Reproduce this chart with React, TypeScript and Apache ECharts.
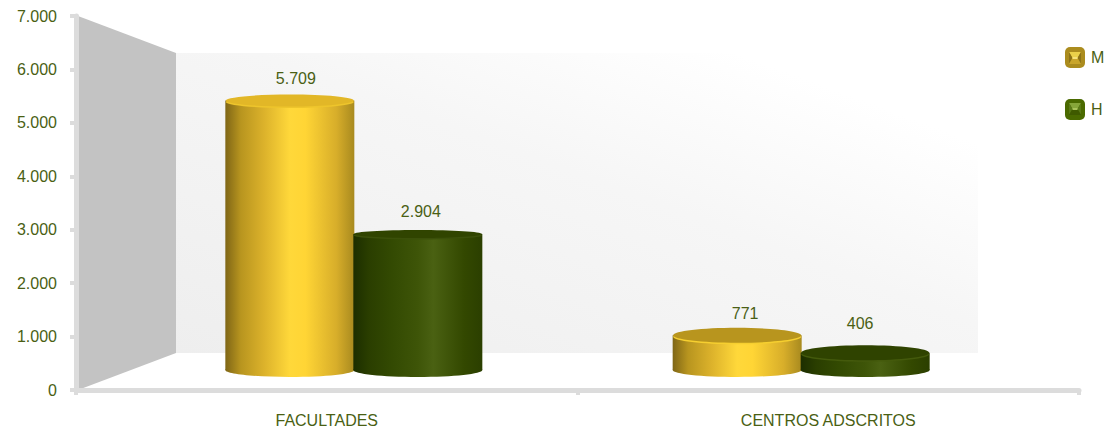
import React, { useEffect, useRef } from "react";
import * as echarts from "echarts";

const categories = ["FACULTADES", "CENTROS ADSCRITOS"];
const valuesM = [5709, 771];
const valuesH = [2904, 406];
const yTicks = { min: 0, max: 7000, interval: 1000 };

const TEXT = "#4a5f14";
const FONT = "'Liberation Sans', Arial, sans-serif";
const FS = 16;

const GOLD = {
  stops: ["#7f6616", "#b8951f", "#dcb22b", "#ffd83a", "#ffd535", "#d8ae2a", "#a88a1f"],
  face: "#b8951e",
  faceTall: "#e2b727",
  rim: "#f6cf30",
  rimTall: "#eec52c",
  labelDx: [6, 8],
};
const GREEN = {
  stops: ["#1c2e00", "#2a3e00", "#334a02", "#3e5508", "#4a6112", "#334800", "#2b3f00"],
  face: "#2f4300",
  faceTall: "#304400",
  rim: "#445a0c",
  rimTall: "#3b500a",
  labelDx: [3, -5],
};

const sideGrad = (p: typeof GOLD) =>
  new echarts.graphic.LinearGradient(0, 0, 1, 0, [
    { offset: 0, color: p.stops[0] },
    { offset: 0.12, color: p.stops[1] },
    { offset: 0.3, color: p.stops[2] },
    { offset: 0.5, color: p.stops[3] },
    { offset: 0.62, color: p.stops[4] },
    { offset: 0.86, color: p.stops[5] },
    { offset: 1, color: p.stops[6] },
  ]);

function cylinder(palette: typeof GOLD, side: number) {
  return (_params: any, api: any) => {
    const cat = api.value(0);
    const v = api.value(1);
    const front = api.coord([cat, 0]);
    const band = api.size([1, 0])[0];
    const center = api.coord([0, 0])[0] + band / 2;
    const barCx = front[0] + (center - front[0]) * 0.108;
    const cx = barCx + side * 64;
    const hPerUnit = (front[1] - api.coord([cat, 1000])[1]) / 1000;
    const rx = 64.5;
    const baseY = front[1] - 20;
    const topY = front[1] - 18 - v * hPerUnit * 0.89;
    const tall = v > 2000;
    const ry = v > 5000 ? 6 : tall ? 4 : 7.5;
    const grad = sideGrad(palette);
    const nudge = v < 500 ? 7 : 0;
    return {
      type: "group",
      children: [
        { type: "ellipse", shape: { cx, cy: baseY, rx, ry: 7 }, style: { fill: grad } },
        { type: "rect", shape: { x: cx - rx, y: topY, width: rx * 2, height: baseY - topY }, style: { fill: grad } },
        { type: "ellipse", shape: { cx, cy: topY + 1.5, rx: rx - 0.5, ry }, style: { fill: tall ? palette.rimTall : palette.rim } },
        { type: "ellipse", shape: { cx, cy: topY, rx: rx - 0.5, ry }, style: { fill: tall ? palette.faceTall : palette.face } },
        {
          type: "text",
          style: {
            text: v.toLocaleString("de-DE"),
            x: cx + palette.labelDx[cat],
            y: topY - 22 - nudge,
            fill: TEXT,
            font: `${FS}px ${FONT}`,
            align: "center",
            verticalAlign: "middle",
          },
        },
      ],
    };
  };
}

function legendIcon(x: number, y: number, light: string, mid: string, dark: string, pale: string) {
  const s = 12;
  const i = 3.5;
  return [
    { type: "polygon", shape: { points: [[x, y], [x + s, y], [x + s - i, y + s / 2], [x + i, y + s / 2]] }, style: { fill: light }, z: 6 },
    { type: "polygon", shape: { points: [[x, y], [x + i, y + s / 2], [x, y + s]] }, style: { fill: dark }, z: 6 },
    { type: "polygon", shape: { points: [[x + s, y], [x + s - i, y + s / 2], [x + s, y + s]] }, style: { fill: dark }, z: 6 },
    { type: "polygon", shape: { points: [[x + i, y + s / 2], [x + s - i, y + s / 2], [x + s, y + s], [x, y + s]] }, style: { fill: mid }, z: 6 },
    { type: "rect", shape: { x: x + i, y: y + s / 2 - 1, width: s - 2 * i, height: 2 }, style: { fill: pale }, z: 6 },
  ];
}

export default function App() {
  const ref = useRef<HTMLDivElement>(null);
  useEffect(() => {
    document.body.style.margin = "0";
    const chart = echarts.init(ref.current!, undefined, { renderer: "svg" });
    chart.setOption({
      animation: false,
      backgroundColor: "#ffffff",
      grid: { left: 76, right: 28, top: 16, bottom: 43 },
      legend: {
        left: 1065,
        top: 47,
        orient: "vertical",
        itemWidth: 20,
        itemHeight: 21,
        itemGap: 31,
        icon: "roundRect",
        padding: 0,
        textStyle: { color: TEXT, fontFamily: FONT, fontSize: FS, padding: [0, 0, 0, 1] },
        data: ["M", "H"],
      },
      xAxis: {
        type: "category",
        data: categories,
        boundaryGap: true,
        axisLine: { lineStyle: { color: "#dcdcdc", width: 5 } },
        axisTick: { show: true, length: 5, lineStyle: { color: "#dcdcdc", width: 4 } },
        axisLabel: { color: TEXT, fontFamily: FONT, fontSize: FS, margin: 22 },
      },
      yAxis: {
        type: "value",
        min: yTicks.min,
        max: yTicks.max,
        interval: yTicks.interval,
        splitLine: { show: false },
        axisLine: { show: true, lineStyle: { color: "#dcdcdc", width: 5 } },
        axisTick: { show: true, length: 6, lineStyle: { color: "#dcdcdc", width: 4 } },
        axisLabel: {
          color: TEXT,
          fontFamily: FONT,
          fontSize: FS,
          margin: 19,
          formatter: (v: number) => v.toLocaleString("de-DE"),
        },
      },
      graphic: [
        {
          type: "polygon",
          z: -2,
          shape: { points: [[176, 53], [978, 53], [978, 353], [176, 353]] },
          style: {
            fill: new echarts.graphic.LinearGradient(0, 1, 1, 0, [
              { offset: 0, color: "#eeeeee" },
              { offset: 0.55, color: "#f6f6f6" },
              { offset: 0.85, color: "#ffffff" },
              { offset: 1, color: "#ffffff" },
            ]),
          },
        },
        {
          type: "polygon",
          z: -1,
          shape: { points: [[78, 16], [176, 53], [176, 353], [78, 390]] },
          style: { fill: "#c3c3c3" },
        },
        ...legendIcon(1069, 52, "#ead04a", "#c9a52a", "#8d7318", "#f6e27a"),
        ...legendIcon(1069, 103, "#86a63a", "#3f5a00", "#5a7a18", "#a9c45a"),
      ],
      series: [
        {
          name: "M",
          type: "custom",
          renderItem: cylinder(GOLD, -1),
          itemStyle: { color: "#ab8c1e" },
          encode: { x: 0, y: 1 },
          data: categories.map((_, i) => [i, valuesM[i]]),
          clip: false,
        },
        {
          name: "H",
          type: "custom",
          renderItem: cylinder(GREEN, 1),
          itemStyle: { color: "#4a6a00" },
          encode: { x: 0, y: 1 },
          data: categories.map((_, i) => [i, valuesH[i]]),
          clip: false,
        },
      ],
    });
    return () => chart.dispose();
  }, []);
  return <div ref={ref} style={{ width: 1107, height: 433 }} />;
}
